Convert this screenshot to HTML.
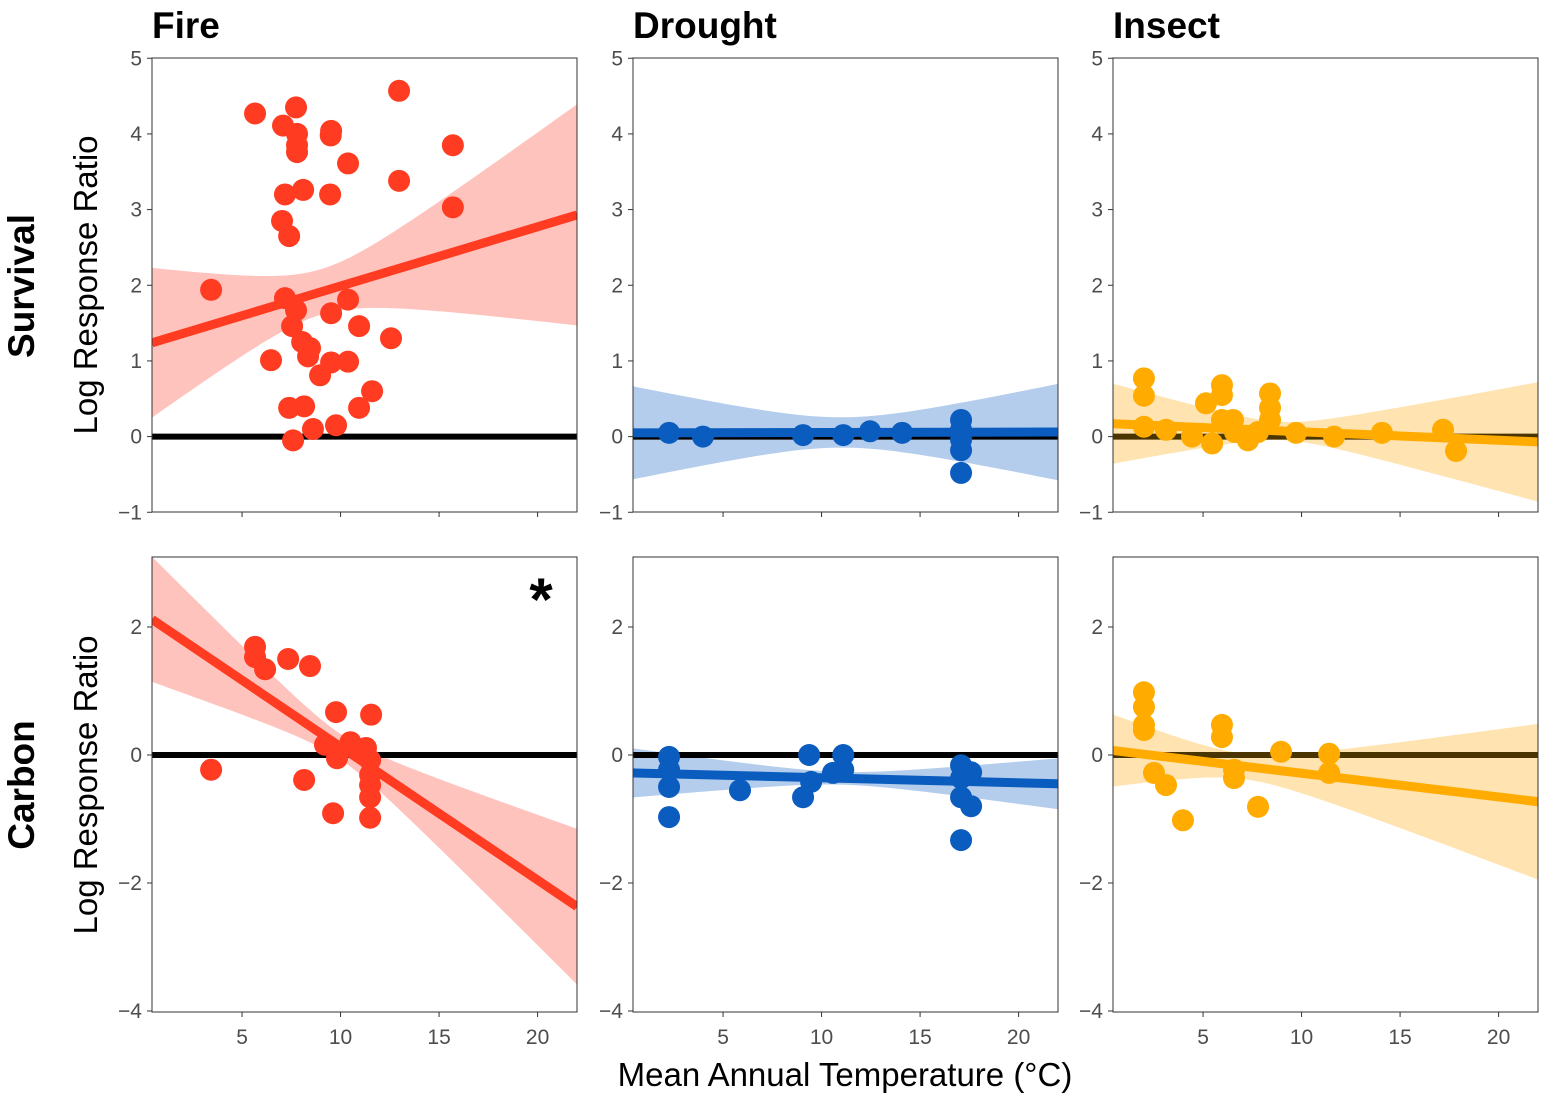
<!DOCTYPE html>
<html><head><meta charset="utf-8"><style>
body{margin:0;background:#fff}
svg{display:block;font-family:"Liberation Sans",Arial,sans-serif}
</style></head><body>
<svg id="chart" width="1550" height="1102" xmlns="http://www.w3.org/2000/svg"></svg>
<script>
// ---- data ----
const fireSurvX=[5.66,7.08,7.74,7.79,7.79,7.79,9.52,9.5,12.97,15.7,10.38,12.97,15.7,7.18,8.1,9.47,7.03,7.39,3.43,7.18,7.74,7.54,9.52,10.38,10.94,12.56,8.05,8.45,8.35,6.47,9.52,10.38,8.96,11.6,7.39,8.15,10.94,8.6,9.77,7.59];
const fireSurvY=[4.27,4.11,4.35,4.0,3.85,3.76,4.04,3.98,4.57,3.85,3.61,3.38,3.03,3.2,3.26,3.2,2.85,2.65,1.94,1.83,1.67,1.46,1.63,1.81,1.46,1.3,1.25,1.17,1.06,1.01,0.98,0.99,0.81,0.6,0.38,0.4,0.38,0.1,0.15,-0.05];
const drSurvX=[2.26,3.98,9.06,11.1,12.46,14.09,17.08,17.08,17.08,17.08,17.08];
const drSurvY=[0.05,0.0,0.02,0.02,0.07,0.05,0.22,0.09,-0.04,-0.18,-0.48];
const inSurvX=[2.0,2.0,2.0,3.12,4.44,5.15,5.46,5.96,5.96,5.96,6.52,6.62,7.28,7.79,8.4,8.4,8.4,9.72,11.65,14.08,17.18,17.84];
const inSurvY=[0.77,0.54,0.13,0.09,0.0,0.44,-0.09,0.68,0.55,0.22,0.22,0.06,-0.05,0.06,0.57,0.38,0.22,0.05,0.0,0.05,0.09,-0.19];
const fireCarbX=[5.66,5.66,6.17,7.34,8.45,3.43,8.15,9.77,11.55,9.21,9.82,9.62,11.29,11.5,11.5,11.5,11.5,11.5,10.5];
const fireCarbY=[1.69,1.53,1.34,1.5,1.39,-0.23,-0.39,0.67,0.63,0.16,-0.05,-0.91,0.11,-0.08,-0.31,-0.47,-0.66,-0.98,0.2];
const drCarbX=[2.26,2.26,2.26,2.26,5.86,9.37,9.06,9.47,10.58,11.1,11.1,17.08,17.08,17.08,17.59,17.59,17.08];
const drCarbY=[-0.03,-0.23,-0.5,-0.97,-0.55,0.0,-0.66,-0.42,-0.28,0.0,-0.23,-0.16,-0.36,-0.66,-0.27,-0.8,-1.33];
const inCarbX=[2.0,2.0,2.0,2.0,2.51,3.12,3.98,5.96,5.96,6.57,6.57,7.79,8.96,11.4,11.4];
const inCarbY=[0.98,0.75,0.47,0.39,-0.28,-0.47,-1.02,0.47,0.28,-0.36,-0.23,-0.81,0.05,0.02,-0.28];
// fit: [value at x=0.43, value at x=22]; band: [center x, min half width, growth]
const fitStart=[1.24,0.05,0.17,2.12,-0.28,0.07];
const fitEnd=[2.93,0.06,-0.07,-2.37,-0.45,-0.73];
const bandCenter=[9,11,9,10,11,7];
const bandMin=[0.3,0.2,0.12,0.2,0.1,0.2];
const bandGrowth=[0.11,0.055,0.06,0.1,0.035,0.08];
const yTicksTop=[5,4,3,2,1,0,-1];
const yTicksBot=[2,0,-2,-4];
const xTicks=[5,10,15,20];
const colTitles=["Fire","Drought","Insect"];

const NS="http://www.w3.org/2000/svg";
const svg=document.getElementById('chart');
function mk(t,a,p){const e=document.createElementNS(NS,t);for(const k in a)e.setAttribute(k,a[k]);(p||svg).appendChild(e);return e;}
const colLeft=[152,633,1113],W=425;
const rows=[{top:58,bot:512,ticks:yTicksTop},{top:557,bot:1012,ticks:yTicksBot}];
rows[0].y=v=>436.6-v*75.67; rows[1].y=v=>755-v*64;
const xmin=0.43,xmax=22;
const colors=[["#ff3b21","#ffc3bd"],["#0a5cbe","#b4cdec"],["#ffab00","#ffe3b0"]];
const datasets=[[fireSurvX,fireSurvY],[drSurvX,drSurvY],[inSurvX,inSurvY],[fireCarbX,fireCarbY],[drCarbX,drCarbY],[inCarbX,inCarbY]];
const ids=["fire","drought","insect"],rid=["survival","carbon"];
for(let r=0;r<2;r++)for(let c=0;c<3;c++){
  const i=r*3+c,R=rows[r],x0=colLeft[c];
  const X=v=>x0+(v-xmin)/(xmax-xmin)*W, Y=R.y;
  const g=mk('g',{});
  
  
  const cp=mk('clipPath',{id:'cp'+i},g);mk('rect',{x:x0,y:R.top,width:W,height:R.bot-R.top},cp);
  const pg=mk('g',{'clip-path':`url(#cp${i})`},g);
  const fy=x=>fitStart[i]+(fitEnd[i]-fitStart[i])*(x-xmin)/(xmax-xmin);
  const hw=x=>Math.sqrt(bandMin[i]**2+(bandGrowth[i]*(x-bandCenter[i]))**2);
  let up=[],lo=[];
  for(let k=0;k<=60;k++){const x=xmin+(xmax-xmin)*k/60;up.push(X(x)+','+Y(fy(x)+hw(x)));lo.unshift(X(x)+','+Y(fy(x)-hw(x)));}
  const band=mk('polygon',{points:up.concat(lo).join(' '),fill:colors[c][1]},pg);
  
  const z=mk('line',{x1:x0,x2:x0+W,y1:Y(0),y2:Y(0),stroke:c==2?'#4a3500':'#000','stroke-width':6},pg);
  
  const [dx,dy]=datasets[i];
  dx.forEach((v,k)=>{const p=mk('circle',{cx:X(v),cy:Y(dy[k]),r:11,fill:colors[c][0]},pg);
    });
  const fl=mk('line',{x1:X(xmin),y1:Y(fy(xmin)),x2:X(xmax),y2:Y(fy(xmax)),stroke:colors[c][0],'stroke-width':9},pg);
  
  const fr=mk('rect',{x:x0,y:R.top,width:W,height:R.bot-R.top,fill:'none',stroke:'#333','stroke-width':1},g);
  
  R.ticks.forEach(t=>{mk('line',{x1:x0-5,x2:x0,y1:Y(t),y2:Y(t),stroke:'#333'},g);
    const tx=mk('text',{x:x0-10,y:Y(t)+7,'text-anchor':'end','font-size':21,fill:'#4d4d4d'},g);tx.textContent=t<0?'\u2212'+(-t):t;
    });
  xTicks.forEach(t=>{mk('line',{x1:X(t),x2:X(t),y1:R.bot,y2:R.bot+5,stroke:'#333'},g);
    if(r==1){const tx=mk('text',{x:X(t),y:R.bot+32,'text-anchor':'middle','font-size':21,fill:'#4d4d4d'},g);tx.textContent=t;
    }});
  if(r==0){const t=mk('text',{x:x0,y:38,'font-size':37,'font-weight':'bold',fill:'#000'},g);t.textContent=colTitles[c];
    }
}
function txt(s,a,name){const t=mk('text',a);t.textContent=s;}
txt('Survival',{x:0,y:0,transform:'translate(34,286) rotate(-90)','text-anchor':'middle','font-size':37,'font-weight':'bold'},'row-title-survival');
txt('Carbon',{x:0,y:0,transform:'translate(34,785) rotate(-90)','text-anchor':'middle','font-size':37,'font-weight':'bold'},'row-title-carbon');
txt('Log Response Ratio',{x:0,y:0,transform:'translate(97,285) rotate(-90)','text-anchor':'middle','font-size':33},'y-axis-title');
txt('Log Response Ratio',{x:0,y:0,transform:'translate(97,785) rotate(-90)','text-anchor':'middle','font-size':33},'y-axis-title');
txt('Mean Annual Temperature (\u00B0C)',{x:845,y:1086,'text-anchor':'middle','font-size':33},'x-axis-title');
txt('*',{x:541,y:620,'text-anchor':'middle','font-size':60,'font-weight':'bold'},'significance-marker');
</script>
</body></html>
